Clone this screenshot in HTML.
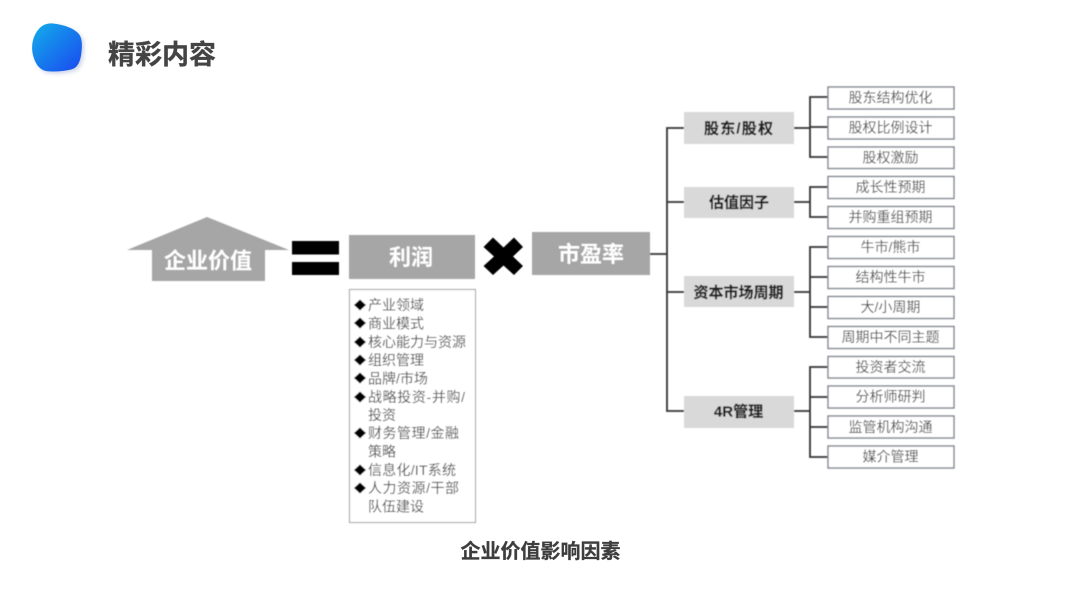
<!DOCTYPE html>
<html lang="zh">
<head>
<meta charset="utf-8">
<style>
html,body{margin:0;padding:0;background:#fff;width:1080px;height:608px;overflow:hidden}
svg{display:block}
text{font-family:"Liberation Sans","Noto Sans CJK SC",sans-serif;dominant-baseline:central}
.w{fill:#fff;font-weight:700;font-size:22px;text-anchor:middle}
.b{fill:#1f1f1f;font-weight:700;font-size:15px;text-anchor:middle;stroke:#1f1f1f;stroke-width:.2px}
.l{fill:#505050;font-size:14px;text-anchor:middle}
.i{fill:#505050;font-size:14px}
.leaf{fill:#fff;stroke:#7f8590;stroke-width:1.4}
.gb{fill:#d9d9d9}
.g{fill:#a6a6a6}
.c{fill:none;stroke:#333;stroke-width:1.8}
</style>
</head>
<body>
<svg width="1080" height="608" viewBox="0 0 1080 608" xmlns="http://www.w3.org/2000/svg">
<defs>
<linearGradient id="bg" x1="0" y1="0" x2="1" y2="1">
<stop offset="0" stop-color="#12aeea"/>
<stop offset="1" stop-color="#1a48f0"/>
</linearGradient>
<filter id="sh" x="-30%" y="-30%" width="160%" height="160%">
<feGaussianBlur stdDeviation="2"/>
</filter>
<filter id="soft" x="-5%" y="-5%" width="110%" height="110%">
<feGaussianBlur stdDeviation="0.4"/>
</filter>
</defs>

<path d="M34 37C38 27 45 22.500 53 23.500C63 24.500 73 28 78 33C82 37 82.500 44 81.500 52C80.500 61 78 68 71 69.500C63 71.500 53 72 46 71C39 69.500 35 63 33 55C31.500 49 32 42 34 37Z" fill="#8f9fc8" opacity=".45" filter="url(#sh)" transform="translate(2 2)"/>
<path d="M34 37C38 27 45 22.500 53 23.500C63 24.500 73 28 78 33C82 37 82.500 44 81.500 52C80.500 61 78 68 71 69.500C63 71.500 53 72 46 71C39 69.500 35 63 33 55C31.500 49 32 42 34 37Z" fill="url(#bg)"/>
<text x="108" y="55" font-size="27" font-weight="700" fill="#444" stroke="#444" stroke-width=".3">精彩内容</text>

<g filter="url(#soft)">
<path class="g" d="M207 217L289 250H265V281H152V250H127Z"/>
<text class="w" x="208" y="261">企业价值</text>

<rect x="292" y="241" width="47" height="13.500" fill="#000"/>
<rect x="292" y="262" width="47" height="13" fill="#000"/>

<rect class="g" x="349" y="235" width="126" height="44"/>
<text class="w" x="411" y="257.500">利润</text>

<path d="M483.500 247L493 237.500L503.500 247.500L514 237.500L523 247L513 256.500L523 266L514 275L503.500 265.500L493 275L483.500 266L494 256.500Z" fill="#000"/>

<rect class="g" x="532" y="232" width="118" height="43"/>
<text class="w" x="591" y="254.500">市盈率</text>

<rect x="349.500" y="289.500" width="126" height="233" fill="#fff" stroke="#a8a8a8" stroke-width="1.1"/>
<path d="M360 299.500L366 305L360 310.500L354 305ZM360 317.500L366 323L360 328.500L354 323ZM360 336.500L366 342L360 347.500L354 342ZM360 354.500L366 360L360 365.500L354 360ZM360 372.500L366 378L360 383.500L354 378ZM360 391.500L366 397L360 402.500L354 397ZM360 427.500L366 433L360 438.500L354 433ZM360 464.500L366 470L360 475.500L354 470ZM360 482.500L366 488L360 493.500L354 488Z" fill="#000"/>
<text class="i" x="368" y="305">产业领域</text>
<text class="i" x="368" y="323.500">商业模式</text>
<text class="i" x="368" y="342">核心能力与资源</text>
<text class="i" x="368" y="360">组织管理</text>
<text class="i" x="368" y="378.500">品牌/市场</text>
<text class="i" x="368" y="397" textLength="97" lengthAdjust="spacing">战略投资-并购/</text>
<text class="i" x="368" y="415">投资</text>
<text class="i" x="368" y="433" textLength="91" lengthAdjust="spacing">财务管理/金融</text>
<text class="i" x="368" y="451.500">策略</text>
<text class="i" x="368" y="470" textLength="88" lengthAdjust="spacing">信息化/IT系统</text>
<text class="i" x="368" y="488" textLength="91" lengthAdjust="spacing">人力资源/干部</text>
<text class="i" x="368" y="506.500">队伍建设</text>

<path class="c" d="M650 254H667M684 128H667V411H684M667 202H684M667 292H684"/>
<path class="c" d="M793 128H810M828 97H810V157H828M810 127H828"/>
<path class="c" d="M793 202H810M828 187H810V217H828"/>
<path class="c" d="M793 292H810M828 247H810V337H828M810 277H828M810 307H828"/>
<path class="c" d="M793 411H810M828 367H810V457H828M810 397H828M810 427H828"/>

<rect class="gb" x="684" y="112" width="110" height="32"/>
<text class="b" x="738.500" y="129" textLength="69" lengthAdjust="spacing">股东/股权</text>
<rect class="gb" x="684" y="187" width="110" height="31"/>
<text class="b" x="739" y="203">估值因子</text>
<rect class="gb" x="684" y="276" width="110" height="31"/>
<text class="b" x="738.500" y="293">资本市场周期</text>
<rect class="gb" x="684" y="396" width="110" height="32"/>
<text class="b" x="738.500" y="412">4R管理</text>

<rect class="leaf" x="828" y="87" width="126" height="22"/><text class="l" x="890.500" y="97.500">股东结构优化</text>
<rect class="leaf" x="828" y="117" width="126" height="22"/><text class="l" x="890.500" y="127.500">股权比例设计</text>
<rect class="leaf" x="828" y="147" width="126" height="21.500"/><text class="l" x="890.500" y="157.500">股权激励</text>
<rect class="leaf" x="828" y="176.500" width="126" height="22"/><text class="l" x="890.500" y="187">成长性预期</text>
<rect class="leaf" x="828" y="206.500" width="126" height="22"/><text class="l" x="890.500" y="217">并购重组预期</text>
<rect class="leaf" x="828" y="236.500" width="126" height="22"/><text class="l" x="890.500" y="247">牛市/熊市</text>
<rect class="leaf" x="828" y="266.500" width="126" height="22"/><text class="l" x="890.500" y="277">结构性牛市</text>
<rect class="leaf" x="828" y="296.500" width="126" height="22"/><text class="l" x="890.500" y="307">大/小周期</text>
<rect class="leaf" x="828" y="326.500" width="126" height="22"/><text class="l" x="890.500" y="337">周期中不同主题</text>
<rect class="leaf" x="828" y="356.500" width="126" height="21.500"/><text class="l" x="890.500" y="367">投资者交流</text>
<rect class="leaf" x="828" y="386" width="126" height="22"/><text class="l" x="890.500" y="396.500">分析师研判</text>
<rect class="leaf" x="828" y="416" width="126" height="22"/><text class="l" x="890.500" y="427">监管机构沟通</text>
<rect class="leaf" x="828" y="446" width="126" height="22"/><text class="l" x="890.500" y="456.500">媒介管理</text>
</g>

<text x="540.500" y="552" font-size="20" font-weight="700" fill="#3d3d3d" stroke="#3d3d3d" stroke-width=".25" text-anchor="middle">企业价值影响因素</text>
</svg>
</body>
</html>
